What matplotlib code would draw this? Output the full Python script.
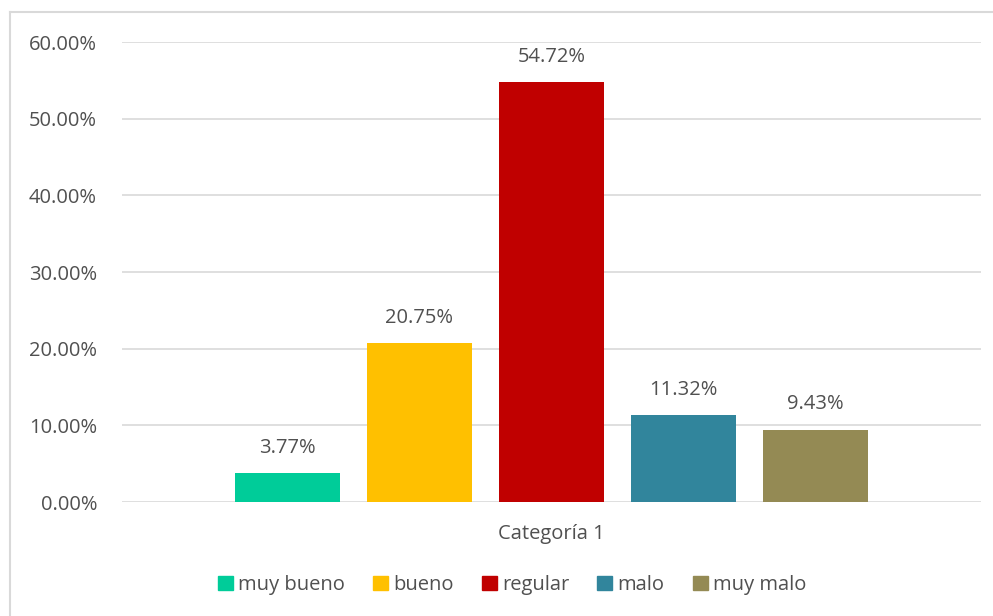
import matplotlib.pyplot as plt
from matplotlib.lines import Line2D
from matplotlib.patches import Patch

series = ["muy bueno", "bueno", "regular", "malo", "muy malo"]
values = [3.77, 20.75, 54.72, 11.32, 9.43]
colors = ["#00CC99", "#FFC000", "#C00000", "#31859C", "#948A54"]
category = "Categoría 1"
yticks = [0, 10, 20, 30, 40, 50, 60]

plt.rcParams['font.family'] = ['Open Sans', 'DejaVu Sans']
txt = "#505050"
fs = 14.5

fig = plt.figure(figsize=(9.93, 6.16), dpi=100)
# chart frame: only the left and top edges are inside the picture
top = 1 - 12 / 616
left = 10 / 993
fig.lines.append(Line2D([left, 1], [top, top], transform=fig.transFigure, color="#d9d9d9", linewidth=1.5))
fig.lines.append(Line2D([left, left], [0, top], transform=fig.transFigure, color="#d9d9d9", linewidth=1.5))

ax = fig.add_axes([122 / 993, 1 - 502 / 616, 859 / 993, 460 / 616])

width = 0.122
step = 0.1537
for i, (name, v, c) in enumerate(zip(series, values, colors)):
    x = (i - 2) * step
    ax.bar(x, v, width=width, color=c, label=name, zorder=3)
    ax.annotate("%.2f%%" % v, (x, v), xytext=(0, 11), textcoords="offset points",
                ha="center", va="bottom", fontsize=fs, color=txt)

ax.set_xlim(-0.5, 0.5)
ax.set_ylim(0, 60)
ax.set_yticks(yticks)
ax.set_yticklabels(["%.2f%%" % t for t in yticks], fontsize=fs, color=txt)
ax.set_xticks([0])
ax.set_xticklabels([category], fontsize=fs, color=txt)
ax.tick_params(length=0, pad=18)
ax.tick_params(axis="x", pad=16)
ax.grid(axis="y", color="#d9d9d9", linewidth=1.2, zorder=0)
for s in ["top", "right", "left", "bottom"]:
    ax.spines[s].set_visible(False)

handles = [Patch(color=c) for c in colors]
fig.legend(handles, series, loc="center", bbox_to_anchor=(512 / 993, 1 - 585 / 616), ncol=5,
           frameon=False, fontsize=fs, labelcolor=txt, handlelength=0.75, handleheight=0.75,
           handletextpad=0.25, columnspacing=1.4)

fig.savefig("out.png", dpi=100)
